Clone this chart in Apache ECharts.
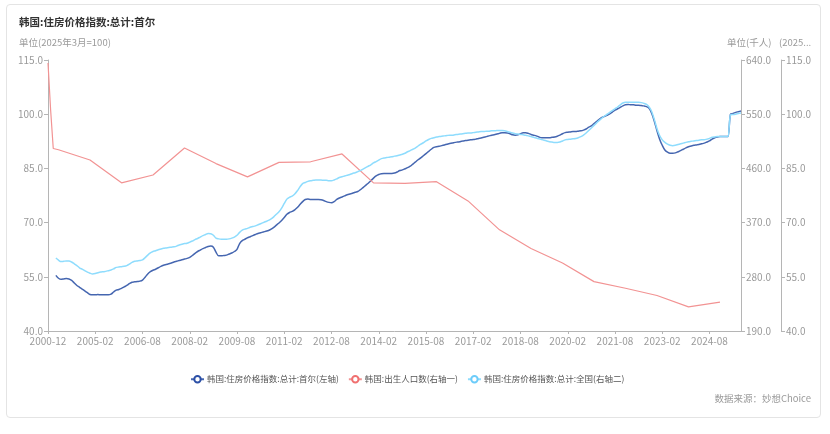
<!DOCTYPE html>
<html>
<head>
<meta charset="utf-8">
<script src="https://cdn.jsdelivr.net/npm/echarts@6/dist/echarts.min.js"></script>
<style>
  html, body { margin: 0; padding: 0; background: #fff; }
  #card { position: absolute; left: 6px; top: 4px; width: 815px; height: 414px; border: 1px solid #e4e4e4; border-radius: 4px; box-sizing: border-box; }
  #chart { position: absolute; left: 0; top: 0; width: 830px; height: 434px; }
</style>
</head>
<body>
<div id="card"></div>
<div id="chart"></div>
<script>
// ---- Data ----
const titleText = '韩国:住房价格指数:总计:首尔';
const seriesNames = ['韩国:住房价格指数:总计:首尔(左轴)', '韩国:出生人口数(右轴一)', '韩国:住房价格指数:总计:全国(右轴二)'];

// Annual births (thousand persons), plotted at December of each year
const birthYears = [2000, 2001, 2002, 2003, 2004, 2005, 2006, 2007, 2008, 2009, 2010, 2011, 2012,
  2013, 2014, 2015, 2016, 2017, 2018, 2019, 2020, 2021, 2022, 2023, 2024];
const birthValues = [635, 557, 493, 491, 474, 436, 449, 494, 468, 446, 470, 471, 484,
  436, 435, 438, 406, 358, 327, 303, 272, 261, 249, 230, 238];

// Monthly housing price index, 2003-11 .. 2025-08
const indexStart = '2003-11';
const seoulIndex = [
  55.4, 54.6,
  54.3, 54.4, 54.5, 54.4, 54.0, 53.3, 52.6, 52.1, 51.6, 51.1, 50.6, 50.1,
  50.0, 50.0, 50.1, 50.0, 50.0, 50.0, 50.0, 50.2, 50.8, 51.3, 51.5, 51.8,
  52.2, 52.6, 53.1, 53.5, 53.6, 53.7, 53.8, 54.1, 54.9, 55.8, 56.4, 56.8,
  57.1, 57.5, 57.9, 58.2, 58.4, 58.6, 58.8, 59.1, 59.3, 59.5, 59.7, 59.9,
  60.1, 60.4, 60.9, 61.5, 62.0, 62.4, 62.8, 63.1, 63.4, 63.5, 63.2, 61.8,
  60.8, 60.8, 60.9, 61.0, 61.3, 61.6, 62.0, 62.6, 64.2, 65.0, 65.4, 65.8,
  66.1, 66.4, 66.7, 67.0, 67.2, 67.4, 67.6, 67.8, 68.2, 68.7, 69.3, 69.9,
  70.6, 71.4, 72.3, 72.8, 73.1, 73.5, 74.2, 75.0, 75.8, 76.4, 76.5, 76.4,
  76.4, 76.4, 76.4, 76.3, 76.1, 75.8, 75.6, 75.5, 75.8, 76.4, 76.8, 77.1,
  77.4, 77.7, 77.9, 78.1, 78.4, 78.6, 79.1, 79.7, 80.3, 80.9, 81.6, 82.3,
  82.9, 83.3, 83.5, 83.6, 83.6, 83.6, 83.6, 83.7, 84.0, 84.4, 84.6, 84.9,
  85.2, 85.6, 86.2, 86.8, 87.4, 87.9, 88.5, 89.1, 89.7, 90.3, 90.8, 91.0,
  91.1, 91.3, 91.5, 91.7, 91.9, 92.0, 92.2, 92.3, 92.4, 92.6, 92.7, 92.8,
  92.9, 93.0, 93.1, 93.3, 93.4, 93.6, 93.8, 94.0, 94.2, 94.3, 94.5, 94.7,
  94.9, 94.9, 94.8, 94.6, 94.3, 94.2, 94.3, 94.6, 94.9, 94.9, 94.7, 94.4,
  94.2, 94.0, 93.7, 93.5, 93.5, 93.5, 93.5, 93.6, 93.7, 93.9, 94.2, 94.6,
  94.9, 95.0, 95.1, 95.2, 95.2, 95.3, 95.4, 95.6, 95.9, 96.4, 96.8, 97.4,
  98.0, 98.6, 99.1, 99.4, 99.7, 100.1, 100.6, 101.1, 101.5, 101.9, 102.3, 102.6,
  102.7, 102.6, 102.6, 102.5, 102.5, 102.4, 102.3, 102.1, 101.6, 100.2, 98.0, 95.4,
  93.1, 91.4, 90.1, 89.5, 89.2, 89.2, 89.3, 89.6, 89.9, 90.3, 90.7, 91.0,
  91.2, 91.4, 91.5, 91.6, 91.8, 92.0, 92.3, 92.6, 93.1, 93.5, 93.7, 93.8,
  93.8, 93.8, 93.8, 100.0, 100.2, 100.5, 100.7, 100.9
];
const nationalIndex = [
  60.2, 59.6,
  59.2, 59.3, 59.4, 59.4, 59.1, 58.6, 58.1, 57.5, 57.1, 56.7, 56.3, 56.0,
  55.8, 55.9, 56.1, 56.3, 56.4, 56.5, 56.7, 56.9, 57.2, 57.6, 57.7, 57.8,
  57.9, 58.1, 58.5, 59.0, 59.3, 59.4, 59.5, 59.7, 60.3, 61.0, 61.6, 62.0,
  62.2, 62.5, 62.7, 62.9, 63.0, 63.1, 63.2, 63.3, 63.5, 63.8, 64.0, 64.2,
  64.3, 64.6, 64.9, 65.3, 65.6, 66.0, 66.4, 66.7, 67.0, 66.9, 66.5, 65.7,
  65.5, 65.4, 65.4, 65.4, 65.5, 65.7, 66.0, 66.5, 67.3, 67.9, 68.2, 68.4,
  68.7, 68.9, 69.1, 69.4, 69.7, 70.0, 70.3, 70.6, 71.0, 71.6, 72.3, 73.0,
  74.0, 75.3, 76.5, 77.0, 77.3, 77.9, 78.8, 79.9, 80.8, 81.1, 81.4, 81.6,
  81.7, 81.8, 81.8, 81.8, 81.7, 81.7, 81.6, 81.6, 81.8, 82.1, 82.5, 82.7,
  82.9, 83.1, 83.3, 83.6, 83.8, 84.1, 84.4, 84.8, 85.2, 85.6, 86.0, 86.5,
  86.9, 87.3, 87.7, 87.9, 88.0, 88.1, 88.2, 88.4, 88.5, 88.7, 88.9, 89.2,
  89.6, 89.9, 90.3, 90.7, 91.2, 91.7, 92.1, 92.6, 93.0, 93.3, 93.5, 93.7,
  93.8, 93.9, 94.0, 94.1, 94.2, 94.2, 94.3, 94.4, 94.5, 94.6, 94.7, 94.8,
  94.8, 94.9, 95.0, 95.1, 95.2, 95.2, 95.3, 95.3, 95.4, 95.4, 95.5, 95.5,
  95.5, 95.4, 95.2, 95.0, 94.8, 94.6, 94.5, 94.4, 94.3, 94.2, 94.0, 93.8,
  93.6, 93.4, 93.2, 93.0, 92.8, 92.6, 92.4, 92.3, 92.2, 92.2, 92.3, 92.6,
  92.9, 93.0, 93.1, 93.2, 93.3, 93.5, 93.8, 94.2, 94.8, 95.5, 96.2, 96.9,
  97.6, 98.3, 98.9, 99.5, 100.0, 100.5, 101.0, 101.5, 102.0, 102.6, 103.1, 103.3,
  103.3, 103.3, 103.3, 103.3, 103.3, 103.2, 103.0, 102.7, 102.0, 100.7, 98.5, 96.0,
  94.1, 92.9, 92.2, 91.7, 91.4, 91.3, 91.4, 91.6, 91.8, 92.0, 92.2, 92.4,
  92.5, 92.6, 92.7, 92.8, 92.9, 92.9, 93.1, 93.3, 93.6, 93.7, 93.8, 93.8,
  93.8, 93.8, 93.8, 99.8, 99.9, 100.0, 100.2, 100.3
];

// ---- Category axis: annual points 2000-12..2002-12, then monthly ----
const categories = ['2000-12', '2001-12', '2002-12'];
(function () {
  let y = parseInt(indexStart.slice(0, 4), 10), m = parseInt(indexStart.slice(5), 10);
  for (let k = 0; k < seoulIndex.length; k++) {
    categories.push(y + '-' + String(m).padStart(2, '0'));
    m++; if (m > 12) { m = 1; y++; }
  }
})();
const offset = categories.indexOf(indexStart);
const pad = new Array(offset).fill(null);
const seoulData = pad.concat(seoulIndex);
const nationalData = pad.concat(nationalIndex);
const birthData = categories.map(() => null);
birthYears.forEach((yr, i) => {
  const idx = categories.indexOf(yr + '-12');
  if (idx >= 0) birthData[idx] = birthValues[i];
});

const FONT = '"Noto Sans CJK SC", "Microsoft YaHei", sans-serif';
const axisGrey = '#b5b5b5';
const labelGrey = '#9a9a9a';

function yAxisCfg(min, max, interval, position, off) {
  return {
    type: 'value', min: min, max: max, interval: interval, position: position, offset: off,
    axisLine: { show: true, lineStyle: { color: axisGrey } },
    axisTick: { show: true, length: 4, lineStyle: { color: axisGrey } },
    splitLine: { show: false },
    axisLabel: { color: labelGrey, fontSize: 10, fontFamily: FONT, margin: 5, formatter: v => v.toFixed(1) }
  };
}

const chart = echarts.init(document.getElementById('chart'));
chart.setOption({
  animation: false,
  textStyle: { fontFamily: FONT },
  title: {
    text: titleText, left: 14, top: 12,
    textStyle: { fontSize: 10.5, fontWeight: 'bold', color: '#333', fontFamily: FONT }
  },
  graphic: [
    { type: 'text', left: 19, top: 38, style: { text: '单位(2025年3月=100)', fontSize: 9.5, fill: labelGrey, fontFamily: FONT } },
    { type: 'text', left: 727, top: 38, style: { text: '单位(千人)', fontSize: 9.5, fill: labelGrey, fontFamily: FONT } },
    { type: 'text', left: 779, top: 38, style: { text: '(2025...', fontSize: 9.5, fill: labelGrey, fontFamily: FONT } },
    { type: 'text', right: 19, top: 394, style: { text: '数据来源：妙想Choice', fontSize: 9.5, fill: labelGrey, fontFamily: FONT } }
  ],
  legend: {
    top: 370, left: 185,
    itemWidth: 13, itemHeight: 8, itemGap: 9,
    textStyle: { fontSize: 8.5, color: '#555', fontFamily: FONT, padding: [0, 0, 0, -2] },
    data: seriesNames
  },
  grid: { left: 48, right: 89, top: 60, bottom: 103, containLabel: false },
  xAxis: {
    type: 'category', data: categories, boundaryGap: false,
    axisLine: { lineStyle: { color: axisGrey } },
    axisTick: { show: true, interval: 17, length: 3, lineStyle: { color: axisGrey } },
    axisLabel: { interval: 17, color: labelGrey, fontSize: 10, fontFamily: FONT, margin: 5 }
  },
  yAxis: [
    yAxisCfg(40, 115, 15, 'left', 0),
    yAxisCfg(190, 640, 90, 'right', 0),
    yAxisCfg(40, 115, 15, 'right', 40)
  ],
  series: [
    {
      name: seriesNames[0], type: 'line', yAxisIndex: 0, data: seoulData,
      showSymbol: false, symbol: 'emptyCircle', symbolSize: 6, smooth: 0.3,
      itemStyle: { color: '#2b4fa6' }, lineStyle: { width: 1.5, color: '#4566b0' }
    },
    {
      name: seriesNames[1], type: 'line', yAxisIndex: 1, data: birthData, connectNulls: true,
      showSymbol: false, symbol: 'emptyCircle', symbolSize: 6,
      itemStyle: { color: '#f07070' }, lineStyle: { width: 1.2, color: '#f29393' }
    },
    {
      name: seriesNames[2], type: 'line', yAxisIndex: 2, data: nationalData,
      showSymbol: false, symbol: 'emptyCircle', symbolSize: 6, smooth: 0.3,
      itemStyle: { color: '#6cccfa' }, lineStyle: { width: 1.5, color: '#8edcfd' }
    }
  ]
});
</script>
</body>
</html>
